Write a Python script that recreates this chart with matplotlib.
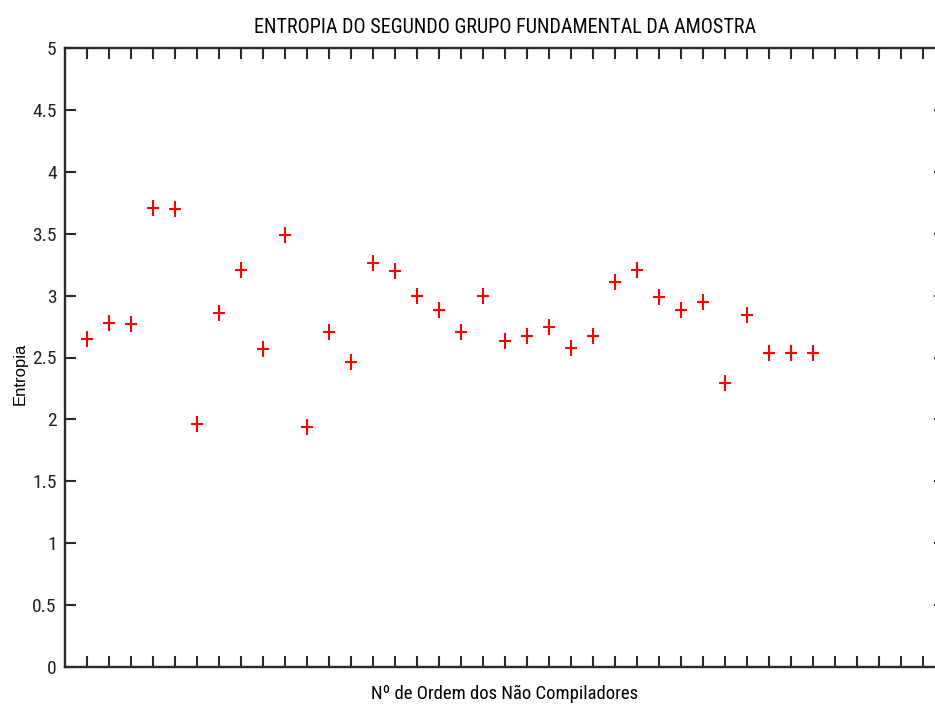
import matplotlib
matplotlib.use("Agg")
import matplotlib.pyplot as plt
from matplotlib.path import Path

# Sample order (1..34) and the entropy of the second fundamental group
ordem = list(range(1, 35))
entropia = [2.65, 2.78, 2.77, 3.71, 3.70, 1.96, 2.86, 3.21, 2.57, 3.49,
            1.94, 2.71, 2.46, 3.26, 3.20, 3.00, 2.88, 2.71, 3.00, 2.63,
            2.67, 2.75, 2.58, 2.67, 3.11, 3.21, 2.99, 2.88, 2.95, 2.29,
            2.84, 2.54, 2.54, 2.54]

x_ticks = list(range(1, 40))
y_ticks = [0, 0.5, 1, 1.5, 2, 2.5, 3, 3.5, 4, 4.5, 5]
y_tick_labels = ["0", "0.5", "1", "1.5", "2", "2.5", "3", "3.5", "4", "4.5", "5"]

titulo = "ENTROPIA DO SEGUNDO GRUPO FUNDAMENTAL DA AMOSTRA"
rotulo_x = "Nº de Ordem dos Não Compiladores"
rotulo_y = "Entropia"

narrow = ["Roboto Condensed", "DejaVu Sans"]

# A slightly tall plus sign
plus = Path([(-0.68, 0), (0.68, 0), (0, -1), (0, 1)],
            [Path.MOVETO, Path.LINETO, Path.MOVETO, Path.LINETO])

fig = plt.figure(figsize=(9.35, 7.08), dpi=100)
ax = fig.add_axes([65 / 935, 41 / 708, 880 / 935, 619 / 708])

ax.plot(ordem, entropia, linestyle="none", marker=plus, markersize=12,
        markeredgewidth=1.5, color="#ff0000")

ax.set_xlim(0, 40)
ax.set_ylim(0, 5)
ax.set_xticks(x_ticks)
ax.set_xticklabels([])
ax.set_yticks(y_ticks)
ax.set_yticklabels(y_tick_labels, fontfamily=narrow, fontsize=14, color="#222222")

ax.tick_params(axis="both", direction="in", length=8, width=1.5,
               color="#2a2a2a", top=True, right=True, pad=6)
for s in ax.spines.values():
    s.set_linewidth(1.7)
    s.set_color("#2a2a2a")

ax.set_title(titulo, fontfamily=narrow, fontsize=14.5, pad=11)
ax.set_xlabel(rotulo_x, fontfamily=narrow, fontsize=13.5, labelpad=7)
ax.set_ylabel(rotulo_y, fontfamily=["Liberation Sans", "DejaVu Sans"], fontsize=12)
ax.yaxis.set_label_coords(-0.043, 0.473)

fig.savefig("out.png", dpi=100)
